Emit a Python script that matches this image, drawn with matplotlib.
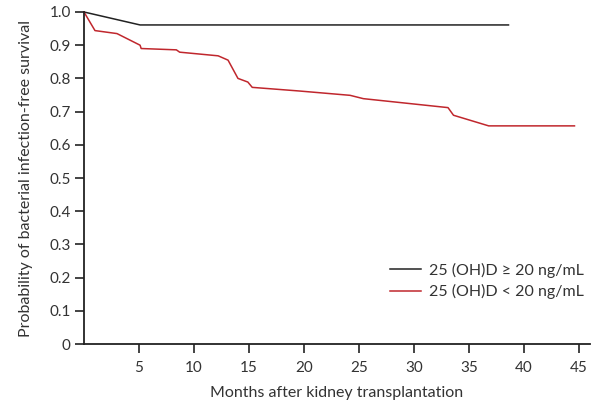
import matplotlib
matplotlib.use("Agg")
import matplotlib.pyplot as plt

# Kaplan-Meier curves
months_high = [0, 5.1, 38.6]
surv_high = [1.0, 0.961, 0.961]

months_low = [0, 1.0, 3.0, 5.1, 5.2, 8.4, 8.7, 12.2, 13.1, 14.0, 14.9, 15.3,
              19.6, 24.2, 25.4, 33.1, 33.6, 36.8, 44.6]
surv_low = [1.0, 0.944, 0.935, 0.900, 0.890, 0.886, 0.879, 0.868, 0.855, 0.800,
            0.789, 0.773, 0.762, 0.749, 0.739, 0.712, 0.689, 0.657, 0.657]

labels = ["25 (OH)D ≥ 20 ng/mL", "25 (OH)D < 20 ng/mL"]
x_ticks = [5, 10, 15, 20, 25, 30, 35, 40, 45]
y_ticks = [0, 0.1, 0.2, 0.3, 0.4, 0.5, 0.6, 0.7, 0.8, 0.9, 1.0]
y_ticklabels = ["0", "0.1", "0.2", "0.3", "0.4", "0.5", "0.6", "0.7", "0.8", "0.9", "1.0"]

plt.rcParams["font.family"] = ["Lato", "DejaVu Sans"]

fig = plt.figure(figsize=(5.91, 4.04), dpi=100)
ax = fig.add_axes([0.1421, 0.1485, 0.856, 0.8218])

ax.plot(months_high, surv_high, color="#222222", lw=1.1, label=labels[0], clip_on=False)
ax.plot(months_low, surv_low, color="#c0272d", lw=1.1, label=labels[1], clip_on=False)

ax.set_xlim(0, 46)
ax.set_ylim(0, 1.0)
ax.set_xticks(x_ticks)
ax.set_xticklabels([str(t) for t in x_ticks])
ax.set_yticks(y_ticks)
ax.set_yticklabels(y_ticklabels)

for side in ["top", "right"]:
    ax.spines[side].set_visible(False)
for side in ["left", "bottom"]:
    ax.spines[side].set_linewidth(1.3)
    ax.spines[side].set_color("#222222")

ax.tick_params(axis="both", direction="out", length=6.5, width=1.2,
               color="#222222", labelsize=11, labelcolor="#333333")
ax.tick_params(axis="x", pad=6)
ax.tick_params(axis="y", pad=3)

ax.set_xlabel("Months after kidney transplantation", fontsize=11.5,
              color="#333333", labelpad=8)
ax.set_ylabel("Probability of bacterial infection-free survival", fontsize=11.5,
              color="#333333", labelpad=12)

leg = ax.legend(loc="lower right", bbox_to_anchor=(1.0, 0.115), frameon=False,
                fontsize=11.5, handlelength=1.9, handletextpad=0.5,
                labelspacing=0.4, borderaxespad=0)
for t in leg.get_texts():
    t.set_color("#333333")

fig.savefig("out.png", dpi=100)
